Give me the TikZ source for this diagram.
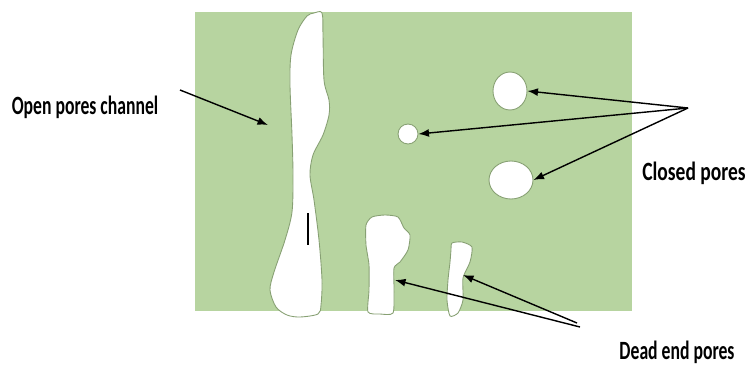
\documentclass[tikz,border=0pt]{standalone}
\usepackage{fontspec}
\setmainfont{Carlito}
\usepackage{graphicx}
\usepackage{tikz}
\usetikzlibrary{arrows.meta,shapes.geometric}

\definecolor{matrixgreen}{RGB}{183,212,160}
\definecolor{poreedge}{RGB}{135,160,115}
\newcommand{\narrowlabel}[2][0.67]{\scalebox{#1}[1]{#2}}

\tikzset{
  pore/.style={fill=white, draw=poreedge, line width=0.5pt},
  closedpore/.style={ellipse, pore, inner sep=0pt},
  pointer/.style={-{Latex[length=6pt,width=4.5pt]}, line width=0.8pt, black},
  caption/.style={font=\bfseries\fontsize{15}{18}\selectfont, inner sep=0pt}
}

\begin{document}
\begin{tikzpicture}[x=0.02cm, y=-0.02cm]
    	\useasboundingbox (0,0) rectangle (751,365);
    	% Solid matrix:
    	\fill[matrixgreen] (195,12) rectangle (632,311);
    	% Open channel through the sample:
    	\draw[pore] plot[smooth cycle, tension=0.5] coordinates {
    		(307,16) (314,13) (322,13) (323,35) (324,80) (329,100) (329,115)
    		(323,135) (313,155) (310,175) (314,200) (319,240) (322,280)
    		(321,305) (318,314) (300,317) (287,315) (276,307) (270,290)
    		(274,272) (285,240) (292,212) (293,175) (292,135) (290,85)
    		(291,55) (298,30)};
    	\draw[line width=0.8pt] (308,213) -- (308,245);
    	% Dead end pores:
    	\draw[pore] plot[smooth cycle, tension=0.4] coordinates {
    		(366,225) (372,217) (385,215) (398,217) (404,228) (410,235)
    		(408,250) (400,262) (394,268) (394,290) (393,313) (380,314)
    		(368,312) (369,290) (369,265) (366,245)};
    	\draw[pore] plot[smooth cycle, tension=0.4] coordinates {
    		(452,243) (462,242) (472,247) (470,262) (463,278) (463,300)
    		(458,313) (450,316) (447,300) (448,280) (450,262) (451,250)};
    	% Closed pores:
    	\node[closedpore, minimum width=0.68cm, minimum height=0.76cm] (cp1) at (510,91) {};
    	\node[closedpore, minimum width=0.40cm, minimum height=0.40cm] (cp2) at (408,134) {};
    	\node[closedpore, minimum width=0.88cm, minimum height=0.76cm] (cp3) at (511,180) {};
    	% Labels:
    	\node[caption] (open) at (85,107) {\narrowlabel{Open pores channel}};
    	\node[caption] (closed) at (694,173) {\narrowlabel[0.74]{Closed pores}};
    	\node[caption] (dead) at (677,352) {\narrowlabel{Dead end pores}};
    	% Arrows:
    	\coordinate (openfrom) at (180,90);
    	\coordinate (opento) at (268,125);
    	\coordinate (closedfrom) at (688,108);
    	\coordinate (deadfromA) at (580,327);
    	\coordinate (deadfromB) at (577,323);
    	\coordinate (deadtoA) at (395,280);
    	\coordinate (deadtoB) at (463,275);
    	\draw[pointer] (openfrom) -- (opento);
    	\draw[pointer] (closedfrom) -- (cp1.east);
    	\draw[pointer] (closedfrom) -- (cp2.east);
    	\draw[pointer] (closedfrom) -- (cp3.east);
    	\draw[pointer] (deadfromA) -- (deadtoA);
    	\draw[pointer] (deadfromB) -- (deadtoB);
\end{tikzpicture}
\end{document}
